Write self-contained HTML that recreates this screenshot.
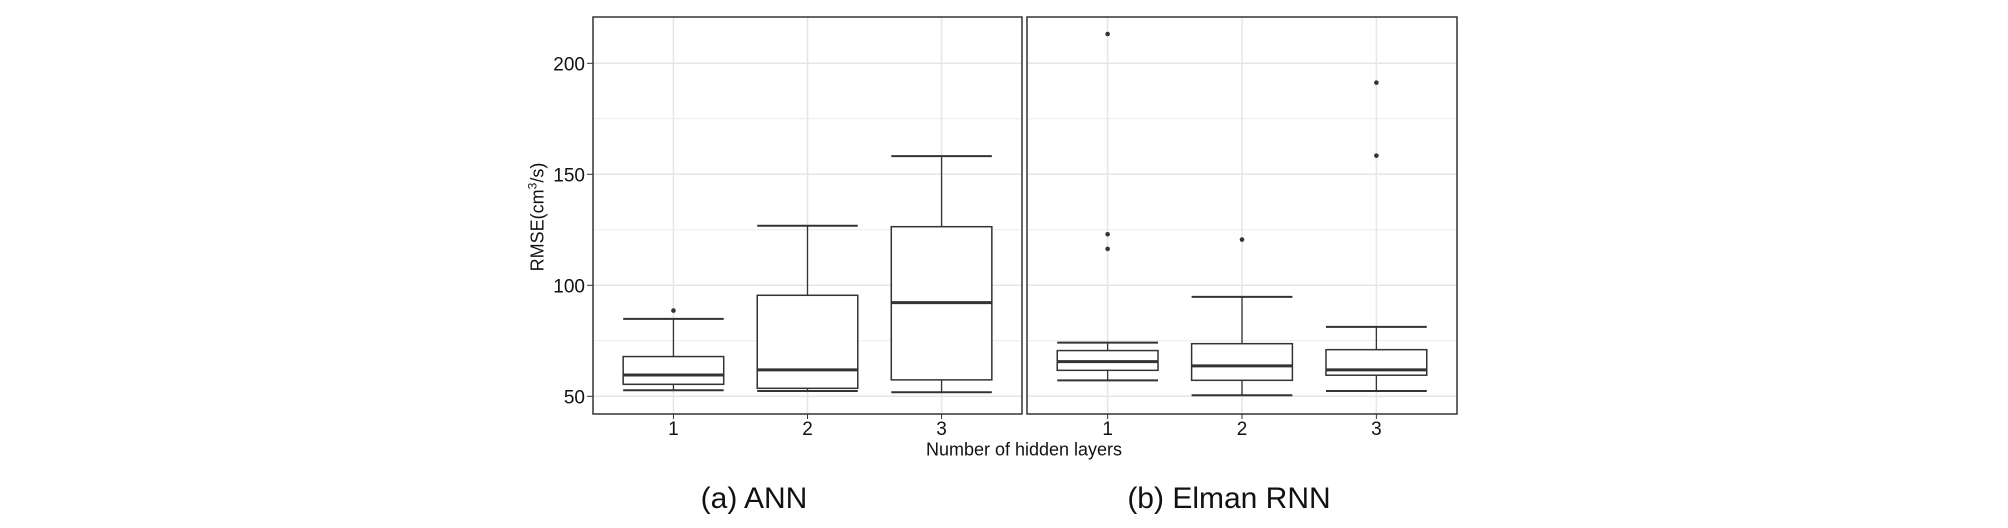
<!DOCTYPE html>
<html><head><meta charset="utf-8"><style>
body{margin:0;background:#fff;}
svg{display:block;font-family:"Liberation Sans",Arial,sans-serif;}
</style></head><body>
<svg id="chart" width="2008" height="528" viewBox="0 0 2008 528">
<g id="g"></g>
</svg>
<script>
const categories = ["1","2","3"];
const yTicks = [50,100,150,200];
const yMinorTicks = [75,125,175];
const panelNames = ["(a) ANN","(b) Elman RNN"];
// [lowerWhisker, q1, median, q3, upperWhisker]
const annStats = [[52.7,55.4,59.6,67.9,84.9],[52.4,53.6,61.9,95.5,126.8],[51.8,57.4,92.2,126.4,158.2]];
const annOutliers = [[88.6],[],[]];
const rnnStats = [[57.2,61.7,65.6,70.6,74.2],[50.5,57.2,63.7,73.7,94.8],[52.4,59.5,61.9,71.0,81.3]];
const rnnOutliers = [[213.2,123.0,116.4],[120.6],[191.3,158.4]];

const NS="http://www.w3.org/2000/svg";
const g=document.getElementById('g');
function mk(tag,attrs,parent){const e=document.createElementNS(NS,tag);for(const k in attrs)e.setAttribute(k,attrs[k]);(parent||g).appendChild(e);return e;}
const plotTop=17,plotBottom=414;
function y(v){return 396.3-(v-50)*2.22;}
const panels=[{x0:593,x1:1022,stats:annStats,out:annOutliers,cap:754},{x0:1027,x1:1457,stats:rnnStats,out:rnnOutliers,cap:1229}];
panels.forEach((p,pi)=>{
  const w=p.x1-p.x0, unit=w/3.2;
  const x=i=>p.x0+(i+0.6)*unit;
  const pg=mk('g',{});
  
  
  yMinorTicks.forEach(v=>{const l=mk('line',{x1:p.x0,x2:p.x1,y1:y(v),y2:y(v),stroke:'#ebebeb','stroke-width':1},pg);
    
    });
  yTicks.forEach(v=>{const l=mk('line',{x1:p.x0,x2:p.x1,y1:y(v),y2:y(v),stroke:'#e6e6e6','stroke-width':1.5},pg);
    
    });
  categories.forEach((c,i)=>{
    const l=mk('line',{x1:x(i),x2:x(i),y1:plotTop,y2:plotBottom,stroke:'#e6e6e6','stroke-width':1.5},pg);
    
    
    const tk=mk('line',{x1:x(i),x2:x(i),y1:plotBottom,y2:plotBottom+5,stroke:'#333','stroke-width':1},pg);
    
    
    const t=mk('text',{x:x(i),y:435,'text-anchor':'middle','font-size':19,fill:'#111'},pg);
    t.textContent=c;
    
    
  });
  p.stats.forEach((s,i)=>{
    const cx=x(i), hw=0.375*unit;
    const bg=mk('g',{stroke:'#333',fill:'#fff'},pg);
    
    
    mk('line',{x1:cx,x2:cx,y1:y(s[3]),y2:y(s[4]),'stroke-width':1.3},bg);
    mk('line',{x1:cx,x2:cx,y1:y(s[0]),y2:y(s[1]),'stroke-width':1.3},bg);
    mk('line',{x1:cx-hw,x2:cx+hw,y1:y(s[4]),y2:y(s[4]),'stroke-width':2},bg);
    mk('line',{x1:cx-hw,x2:cx+hw,y1:y(s[0]),y2:y(s[0]),'stroke-width':2},bg);
    mk('rect',{x:cx-hw,y:y(s[3]),width:2*hw,height:y(s[1])-y(s[3]),'stroke-width':1.5},bg);
    mk('line',{x1:cx-hw,x2:cx+hw,y1:y(s[2]),y2:y(s[2]),'stroke-width':3},bg);
    p.out[i].forEach(v=>{const c=mk('circle',{cx:cx,cy:y(v),r:2.3,fill:'#333',stroke:'none'},bg);
      
      });
  });
  const b=mk('rect',{x:p.x0,y:plotTop,width:w,height:plotBottom-plotTop,fill:'none',stroke:'#333','stroke-width':1.5},pg);
  
  
  const cap=mk('text',{x:p.cap,y:508,'text-anchor':'middle','font-size':30,fill:'#111'},pg);
  cap.textContent=panelNames[pi];
  
  
});
yTicks.forEach(v=>{
  const tk=mk('line',{x1:587,x2:593,y1:y(v),y2:y(v),stroke:'#333','stroke-width':1});
  
  
  const t=mk('text',{x:585,y:y(v)+7,'text-anchor':'end','font-size':19,fill:'#111'});
  t.textContent=v;
  
  
});
</script>
<div style="position:absolute;left:0;top:0;width:2008px;height:528px;pointer-events:none;">
<div style="position:absolute;left:537px;top:217px;transform:translate(-50%,-50%) rotate(-90deg);font:18px 'Liberation Sans',sans-serif;color:#111;white-space:nowrap;">RMSE(cm<sup style="font-size:12px">3</sup>/s)</div>
<div style="position:absolute;left:1024px;top:450px;transform:translate(-50%,-50%);font:18px 'Liberation Sans',sans-serif;color:#111;white-space:nowrap;">Number of hidden layers</div>
</div>
</body></html>
